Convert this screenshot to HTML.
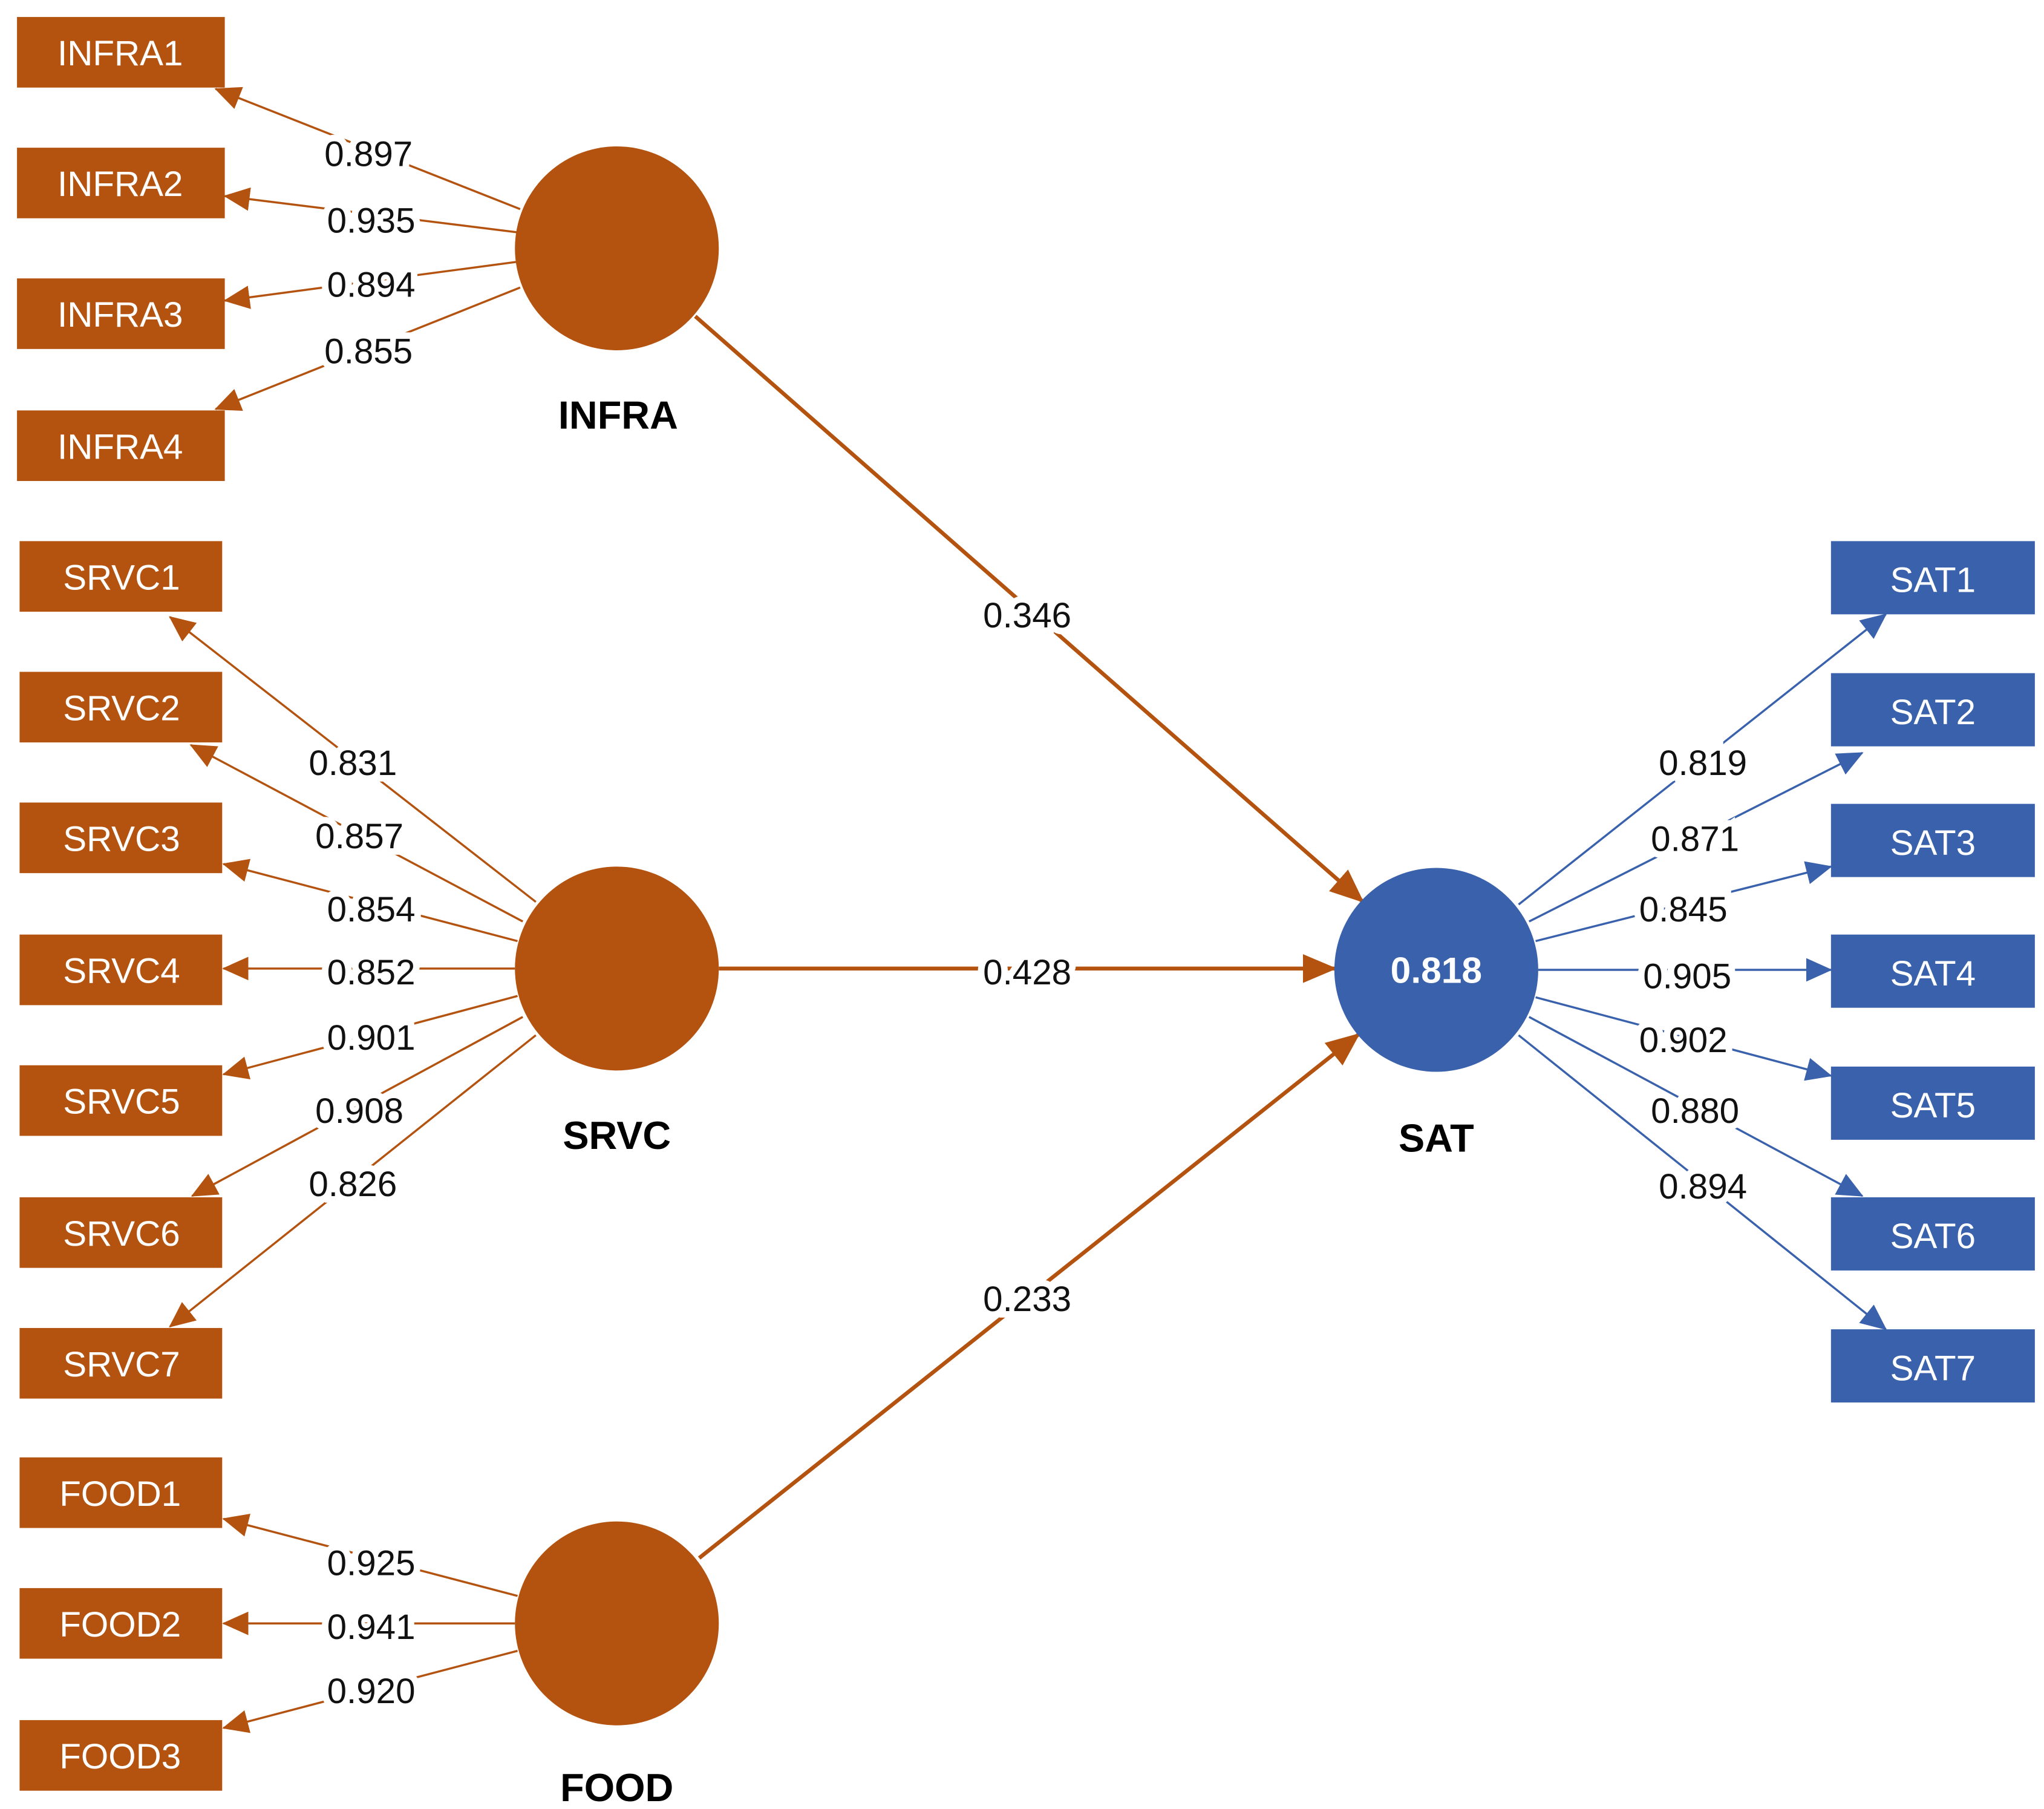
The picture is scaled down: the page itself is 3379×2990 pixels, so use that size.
<!DOCTYPE html>
<html><head><meta charset="utf-8"><style>html,body{margin:0;padding:0;background:#fff}svg{display:block}</style></head>
<body>
<svg width="3379" height="2990" viewBox="0 0 1564 1384" preserveAspectRatio="none" xmlns="http://www.w3.org/2000/svg" font-family="'Liberation Sans', sans-serif">
<defs>
<marker id="ao" markerUnits="userSpaceOnUse" markerWidth="20" markerHeight="18" refX="19" refY="9" orient="auto"><path d="M0,0 L20,9 L0,18 z" fill="#b4530f"/></marker>
<marker id="aO" markerUnits="userSpaceOnUse" markerWidth="26" markerHeight="22" refX="25" refY="11" orient="auto"><path d="M0,0 L26,11 L0,22 z" fill="#b4530f"/></marker>
<marker id="ab" markerUnits="userSpaceOnUse" markerWidth="20" markerHeight="18" refX="19" refY="9" orient="auto"><path d="M0,0 L20,9 L0,18 z" fill="#3961ac"/></marker>
</defs>
<g stroke="#b4530f" stroke-width="1.6" marker-end="url(#ao)">
<line x1="398" y1="160" x2="165" y2="68"/>
<line x1="398" y1="178" x2="172" y2="150"/>
<line x1="398" y1="200" x2="172" y2="230"/>
<line x1="398" y1="220" x2="165" y2="313"/>
<line x1="410" y1="690" x2="130" y2="472"/>
<line x1="400" y1="705" x2="146" y2="570"/>
<line x1="396" y1="720" x2="171" y2="661"/>
<line x1="394" y1="741" x2="171" y2="741"/>
<line x1="396" y1="762" x2="171" y2="822"/>
<line x1="400" y1="778" x2="147" y2="915"/>
<line x1="410" y1="792" x2="130" y2="1015"/>
<line x1="396" y1="1221" x2="171" y2="1162"/>
<line x1="394" y1="1242" x2="171" y2="1242"/>
<line x1="396" y1="1263" x2="171" y2="1322"/>
</g>
<g stroke="#b4530f" stroke-width="3" marker-end="url(#aO)">
<line x1="532" y1="242" x2="1043" y2="690"/>
<line x1="550" y1="741" x2="1022" y2="741"/>
<line x1="535" y1="1192" x2="1040" y2="791"/>
</g>
<g stroke="#3961ac" stroke-width="1.6" marker-end="url(#ab)">
<line x1="1162" y1="692" x2="1443" y2="470"/>
<line x1="1170" y1="705" x2="1425" y2="576"/>
<line x1="1175" y1="720" x2="1401" y2="663"/>
<line x1="1177" y1="742" x2="1401" y2="742"/>
<line x1="1175" y1="763" x2="1401" y2="823"/>
<line x1="1170" y1="778" x2="1425" y2="915"/>
<line x1="1162" y1="792" x2="1443" y2="1017"/>
</g>
<g fill="#b4530f">
<circle cx="472" cy="190" r="78"/><circle cx="472" cy="741" r="78"/><circle cx="472" cy="1242" r="78"/>
<rect x="13" y="13" width="159" height="54"/><rect x="13" y="113" width="159" height="54"/><rect x="13" y="213" width="159" height="54"/><rect x="13" y="314" width="159" height="54"/>
<rect x="15" y="414" width="155" height="54"/><rect x="15" y="514" width="155" height="54"/><rect x="15" y="614" width="155" height="54"/><rect x="15" y="715" width="155" height="54"/><rect x="15" y="815" width="155" height="54"/><rect x="15" y="916" width="155" height="54"/><rect x="15" y="1016" width="155" height="54"/>
<rect x="15" y="1115" width="155" height="54"/><rect x="15" y="1215" width="155" height="54"/><rect x="15" y="1316" width="155" height="54"/>
</g>
<g fill="#3961ac">
<circle cx="1099" cy="742" r="78"/>
<rect x="1401" y="414" width="156" height="56"/><rect x="1401" y="515" width="156" height="56"/><rect x="1401" y="615" width="156" height="56"/><rect x="1401" y="715" width="156" height="56"/><rect x="1401" y="816" width="156" height="56"/><rect x="1401" y="916" width="156" height="56"/><rect x="1401" y="1017" width="156" height="56"/>
</g>
<g fill="#fff" font-size="27" text-anchor="middle">
<text x="92" y="50">INFRA1</text><text x="92" y="150">INFRA2</text><text x="92" y="250">INFRA3</text><text x="92" y="351">INFRA4</text>
<text x="93" y="451">SRVC1</text><text x="93" y="551">SRVC2</text><text x="93" y="651">SRVC3</text><text x="93" y="752">SRVC4</text><text x="93" y="852">SRVC5</text><text x="93" y="953">SRVC6</text><text x="93" y="1053">SRVC7</text>
<text x="92" y="1152">FOOD1</text><text x="92" y="1252">FOOD2</text><text x="92" y="1353">FOOD3</text>
<text x="1479" y="453">SAT1</text><text x="1479" y="554">SAT2</text><text x="1479" y="654">SAT3</text><text x="1479" y="754">SAT4</text><text x="1479" y="855">SAT5</text><text x="1479" y="955">SAT6</text><text x="1479" y="1056">SAT7</text>
<text x="1099" y="752" font-weight="bold" font-size="28">0.818</text>
</g>
<g fill="#000" font-size="30" font-weight="bold" text-anchor="middle">
<text x="473" y="328">INFRA</text><text x="472" y="879">SRVC</text><text x="472" y="1378">FOOD</text><text x="1099" y="881">SAT</text>
</g>
<g fill="#111" font-size="27" text-anchor="middle" stroke="#fff" stroke-width="10" paint-order="stroke">
<text x="282" y="127">0.897</text><text x="284" y="178">0.935</text><text x="284" y="227">0.894</text><text x="282" y="278">0.855</text>
<text x="270" y="593">0.831</text><text x="275" y="649">0.857</text><text x="284" y="705">0.854</text><text x="284" y="753">0.852</text><text x="284" y="803">0.901</text><text x="275" y="859">0.908</text><text x="270" y="915">0.826</text>
<text x="284" y="1205">0.925</text><text x="284" y="1254">0.941</text><text x="284" y="1303">0.920</text>
<text x="786" y="480">0.346</text><text x="786" y="753">0.428</text><text x="786" y="1003">0.233</text>
<text x="1303" y="593">0.819</text><text x="1297" y="651">0.871</text><text x="1288" y="705">0.845</text><text x="1291" y="756">0.905</text><text x="1288" y="805">0.902</text><text x="1297" y="859">0.880</text><text x="1303" y="917">0.894</text>
</g>
</svg>
</body></html>
